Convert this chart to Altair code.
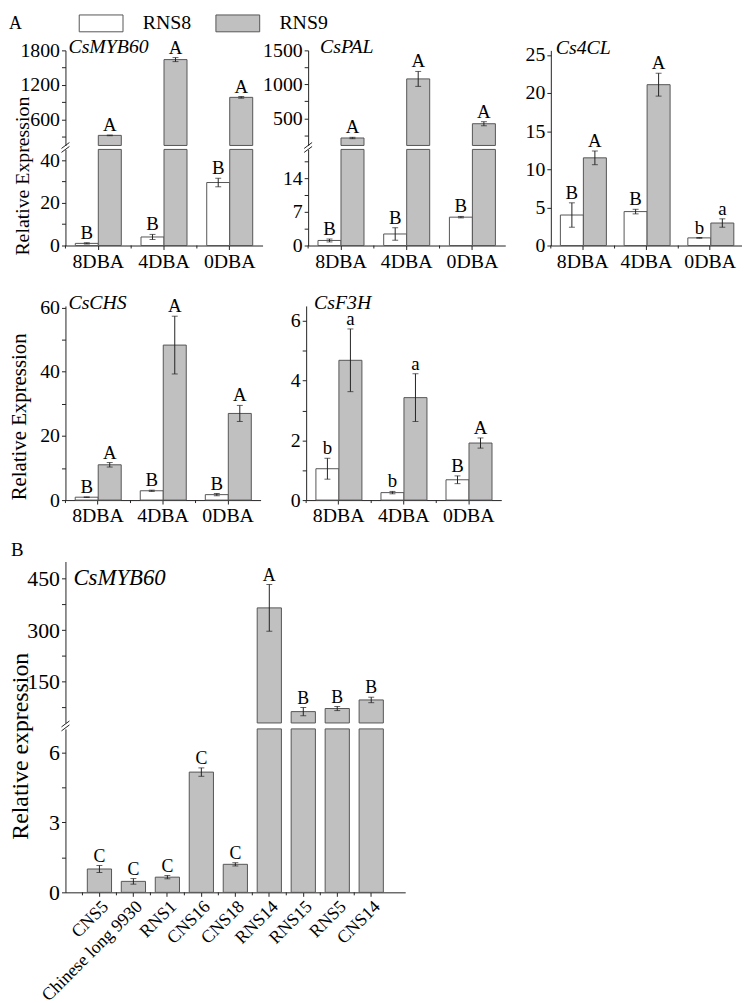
import altair as alt
import pandas as pd

FONT = "Liberation Serif"
INK = "#222222"
EDGE = "#555555"
GREY = "#c0c0c0"

STAGES = ["8DBA", "4DBA", "0DBA"]
SERIES = ["RNS8", "RNS9"]

# CsMYB60 (panel A)
MYB_RNS8 = [1.0, 4.0, 29.5]
MYB_RNS8_ERR = [0.3, 1.2, 2.0]
MYB_RNS9 = [325, 1640, 985]
MYB_RNS9_ERR = [6, 35, 15]
MYB_SIG8 = ["B", "B", "B"]
MYB_SIG9 = ["A", "A", "A"]

# CsPAL
PAL_RNS8 = [1.05, 2.4, 5.9]
PAL_RNS8_ERR = [0.3, 1.3, 0.15]
PAL_RNS9 = [210, 1080, 420]
PAL_RNS9_ERR = [10, 110, 30]
PAL_SIG8 = ["B", "B", "B"]
PAL_SIG9 = ["A", "A", "A"]

# Cs4CL
CL_RNS8 = [4.0, 4.45, 1.0]
CL_RNS8_ERR = [1.6, 0.3, 0.05]
CL_RNS9 = [11.5, 21.1, 2.95]
CL_RNS9_ERR = [0.9, 1.5, 0.55]
CL_SIG8 = ["B", "B", "b"]
CL_SIG9 = ["A", "A", "a"]

# CsCHS
CHS_RNS8 = [0.9, 2.9, 1.7]
CHS_RNS8_ERR = [0.1, 0.2, 0.35]
CHS_RNS9 = [11.0, 48.3, 27.0]
CHS_RNS9_ERR = [0.7, 9.0, 2.5]
CHS_SIG8 = ["B", "B", "B"]
CHS_SIG9 = ["A", "A", "A"]

# CsF3H
F3H_RNS8 = [1.05, 0.25, 0.68]
F3H_RNS8_ERR = [0.35, 0.04, 0.13]
F3H_RNS9 = [4.68, 3.43, 1.91]
F3H_RNS9_ERR = [1.05, 0.8, 0.17]
F3H_SIG8 = ["b", "b", "B"]
F3H_SIG9 = ["a", "a", "A"]

# Panel B: CsMYB60 across cultivars
CULTIVARS = ["CNS5", "Chinese long 9930", "RNS1", "CNS16", "CNS18",
             "RNS14", "RNS15", "RNS5", "CNS14"]
CULT_VALUES = [1.0, 0.47, 0.65, 5.15, 1.2, 365, 63, 72, 97]
CULT_ERR = [0.15, 0.12, 0.07, 0.18, 0.07, 68, 12, 6, 8]
CULT_SIG = ["C", "C", "C", "C", "C", "A", "B", "B", "B"]


def stage_frame(s8, e8, g8, s9, e9, g9):
    rows = []
    for i, st in enumerate(STAGES):
        for ser, v, e, g in (("RNS8", s8[i], e8[i], g8[i]), ("RNS9", s9[i], e9[i], g9[i])):
            rows.append({"cat": st, "ser": ser, "v": v, "lo": v - e, "hi": v + e, "sig": g})
    return pd.DataFrame(rows)


def cult_frame():
    rows = []
    for c, v, e, g in zip(CULTIVARS, CULT_VALUES, CULT_ERR, CULT_SIG):
        rows.append({"cat": c, "v": v, "lo": v - e, "hi": v + e, "sig": g})
    return pd.DataFrame(rows)


FILL = alt.Scale(domain=SERIES, range=["#ffffff", GREY])
LEGEND = alt.Legend(orient="none", legendX=13, legendY=-37.5, direction="horizontal",
                    title=None, symbolType="M-2.6,-1H2.6V1H-2.6Z", symbolSize=289,
                    symbolOffset=13, symbolStrokeColor=EDGE, symbolStrokeWidth=1,
                    labelFont=FONT, labelFontSize=20, labelColor="#000", labelOffset=32,
                    columnPadding=22)


def yaxis(values, major, lsize, title=None, tx=None, ty=None, tsize=None):
    ax = dict(orient="left", values=values, format="d",
              labelExpr=f"abs(datum.value % {major}) < 0.001 ? datum.label : ''",
              tickSize=4, labelFontSize=lsize, labelPadding=2, labelFont=FONT)
    if title:
        ax.update(title=title, titleX=tx, titleY=ty, titleFontSize=tsize, titleFont=FONT,
                  titleFontWeight="normal", titleAngle=270, titleBaseline="bottom",
                  titleAlign="center")
    else:
        ax["title"] = None
    return alt.Axis(**ax)


def stage_x(**kw):
    return alt.X("cat:N", sort=STAGES,
                 scale=alt.Scale(domain=STAGES, paddingInner=0.3, paddingOuter=0.15),
                 axis=alt.Axis(title=None, labelAngle=0, labelFontSize=20, labelPadding=2,
                               tickSize=4, labelFont=FONT), **kw)


def cult_x(**kw):
    return alt.X("cat:N", sort=CULTIVARS,
                 scale=alt.Scale(domain=CULTIVARS, paddingInner=0.287, paddingOuter=0.6435),
                 axis=alt.Axis(title=None, labelAngle=315, labelAlign="right",
                               labelBaseline="top", labelFontSize=18, labelPadding=1,
                               tickSize=4, labelFont=FONT), **kw)


def xoff():
    return alt.XOffset("ser:N", sort=SERIES,
                       scale=alt.Scale(domain=SERIES, paddingInner=0, paddingOuter=0))


def section(df, yscale, axis, keep_bars=None, keep_marks=None, base=None,
            grouped=True, sig_size=19):
    xf = stage_x if grouped else cult_x

    def src(keep):
        c = alt.Chart(df)
        return c.transform_filter(keep) if keep else c

    def pos(**kw):
        d = {"x": xf()}
        if grouped:
            d["xOffset"] = xoff()
        d.update(kw)
        return d

    bar_enc = pos(y=alt.Y("v:Q", scale=yscale, axis=axis))
    if grouped:
        bar_enc["fill"] = alt.Fill("ser:N", scale=FILL, legend=LEGEND)
    else:
        bar_enc["fill"] = alt.value(GREY)
    if base is not None:
        bar_enc["y2"] = alt.Y2Datum(base)
    bars = src(keep_bars).mark_bar(stroke=EDGE, strokeWidth=1).encode(**bar_enc)

    m = src(keep_marks)
    rule = m.mark_rule(color=INK, strokeWidth=1).encode(
        **pos(y=alt.Y("lo:Q", scale=yscale, axis=axis), y2="hi:Q"))
    cap_lo = m.mark_tick(color=INK, size=6, thickness=1, orient="horizontal").encode(
        **pos(y=alt.Y("lo:Q", scale=yscale, axis=axis)))
    cap_hi = m.mark_tick(color=INK, size=6, thickness=1, orient="horizontal").encode(
        **pos(y=alt.Y("hi:Q", scale=yscale, axis=axis)))
    sig = m.mark_text(font=FONT, fontSize=sig_size, baseline="alphabetic", dy=-4,
                      color="#000").encode(
        **pos(y=alt.Y("hi:Q", scale=yscale, axis=axis), text="sig:N"))
    return alt.layer(bars, rule, cap_lo, cap_hi, sig)


def minor_x(cats, xf, shift, h):
    # small ticks midway between the categories, hanging from the x axis line
    return alt.Chart(pd.DataFrame({"cat": cats})).mark_rule(
        color=INK, strokeWidth=1, xOffset=-shift).encode(
        x=xf(bandPosition=0), y=alt.value(h), y2=alt.value(h + 3))


def note(txt, x, y, size, italic=False):
    return alt.Chart(pd.DataFrame({"t": [txt]})).mark_text(
        font=FONT, fontSize=size, fontStyle="italic" if italic else "normal",
        align="left", baseline="alphabetic", color="#000").encode(
        text="t:N", x=alt.value(x), y=alt.value(y))


def breaks(yc):
    out = []
    for d in (-2, 2):
        out.append(alt.Chart(pd.DataFrame({"k": [0]})).mark_rule(
            color=INK, strokeWidth=1).encode(
            x=alt.value(-4), x2=alt.value(4), y=alt.value(yc + d + 3), y2=alt.value(yc + d - 3)))
    return out


# half of the gap between neighbouring bands, in pixels, for each panel width
def half_gap(width, n, p_in, p_out):
    step = width / (n - p_in + 2 * p_out)
    return p_in * step / 2


# ---- CsMYB60 (broken axis)
df = stage_frame(MYB_RNS8, MYB_RNS8_ERR, MYB_SIG8, MYB_RNS9, MYB_RNS9_ERR, MYB_SIG9)
up = section(df, alt.Scale(domain=[150, 1800], range=[96, 0], nice=False, zero=False, clamp=True),
             yaxis([300, 600, 900, 1200, 1500, 1800], 600, 20),
             keep_bars="datum.v > 150", keep_marks="datum.v > 150", base=150)
lo = section(df, alt.Scale(domain=[0, 45], range=[197, 100], nice=False, clamp=True),
             yaxis([0, 10, 20, 30, 40], 20, 20, "Relative Expression", -33, 126.5, 20),
             keep_marks="datum.v <= 45")
p_myb = alt.layer(up, lo, minor_x(STAGES, stage_x, half_gap(199, 3, 0.3, 0.15), 197),
                  note("CsMYB60", 3, 3, 20, True), note("A", -57, -22, 18),
                  *breaks(98)).resolve_scale(y="independent").properties(width=199, height=197)

# ---- CsPAL (broken axis)
df = stage_frame(PAL_RNS8, PAL_RNS8_ERR, PAL_SIG8, PAL_RNS9, PAL_RNS9_ERR, PAL_SIG9)
up = section(df, alt.Scale(domain=[100, 1500], range=[96, 0], nice=False, zero=False, clamp=True),
             yaxis([250, 500, 750, 1000, 1250, 1500], 500, 20),
             keep_bars="datum.v > 100", keep_marks="datum.v > 100", base=100)
lo = section(df, alt.Scale(domain=[0, 20], range=[197, 100], nice=False, clamp=True),
             yaxis([0, 3.5, 7, 10.5, 14, 17.5], 7, 20),
             keep_marks="datum.v <= 20")
p_pal = alt.layer(up, lo, minor_x(STAGES, stage_x, half_gap(199, 3, 0.3, 0.15), 197),
                  note("CsPAL", 12, 3, 20, True),
                  *breaks(98)).resolve_scale(y="independent").properties(width=199, height=197)

# ---- Cs4CL
df = stage_frame(CL_RNS8, CL_RNS8_ERR, CL_SIG8, CL_RNS9, CL_RNS9_ERR, CL_SIG9)
p_cl = alt.layer(section(df, alt.Scale(domain=[0, 25.6], nice=False),
                         yaxis([0, 5, 10, 15, 20, 25], 5, 20)),
                 minor_x(STAGES, stage_x, half_gap(193, 3, 0.3, 0.15), 197),
                 note("Cs4CL", 5, 4, 20, True)).properties(width=193, height=197)

# ---- CsCHS
df = stage_frame(CHS_RNS8, CHS_RNS8_ERR, CHS_SIG8, CHS_RNS9, CHS_RNS9_ERR, CHS_SIG9)
p_chs = alt.layer(section(df, alt.Scale(domain=[0, 60.5], nice=False),
                          yaxis([0, 10, 20, 30, 40, 50, 60], 20, 20,
                                "Relative Expression", -36, 111.5, 21)),
                  minor_x(STAGES, stage_x, half_gap(197, 3, 0.3, 0.15), 196),
                  note("CsCHS", 3, 3, 20, True)).properties(width=197, height=196)

# ---- CsF3H
df = stage_frame(F3H_RNS8, F3H_RNS8_ERR, F3H_SIG8, F3H_RNS9, F3H_RNS9_ERR, F3H_SIG9)
p_f3h = alt.layer(section(df, alt.Scale(domain=[0, 6.5], nice=False),
                          yaxis([0, 1, 2, 3, 4, 5, 6], 2, 20)),
                  minor_x(STAGES, stage_x, half_gap(197, 3, 0.3, 0.15), 196),
                  note("CsF3H", 8, 3, 20, True)).properties(width=197, height=196)

# ---- Panel B (broken axis)
dfb = cult_frame()
up = section(dfb, alt.Scale(domain=[30, 500], range=[163, 0], nice=False, zero=False, clamp=True),
             yaxis([75, 150, 225, 300, 375, 450], 150, 22),
             keep_bars="datum.v > 30", keep_marks="datum.v > 30", base=30,
             grouped=False, sig_size=18)
lo = section(dfb, alt.Scale(domain=[0, 7], range=[334, 169], nice=False, clamp=True),
             yaxis([0, 1.5, 3, 4.5, 6], 3, 22, "Relative expression", -33, 186, 24),
             keep_marks="datum.v <= 7", grouped=False, sig_size=18)
p_b = alt.layer(up, lo, minor_x(CULTIVARS, cult_x, half_gap(343, 9, 0.287, 0.6435), 334),
                note("CsMYB60", 8, 24, 23, True), note("B", -55, -6, 19),
                *breaks(166)).resolve_scale(y="independent").properties(width=343, height=334)

row1 = alt.hconcat(p_myb, p_pal, p_cl, spacing=46, bounds="flush")
row2 = alt.hconcat(p_chs, p_f3h, spacing=46, bounds="flush")
top = alt.vconcat(row1, row2, spacing=22)

chart = alt.vconcat(top, p_b, spacing=15).properties(padding=0).configure_view(
    stroke=None).configure_axis(
    grid=False, domainColor=INK, tickColor=INK, labelColor="#000", titleColor="#000",
    domainWidth=1, tickWidth=1)

chart.save("out.html", embed_options={"renderer": "svg", "actions": False})
